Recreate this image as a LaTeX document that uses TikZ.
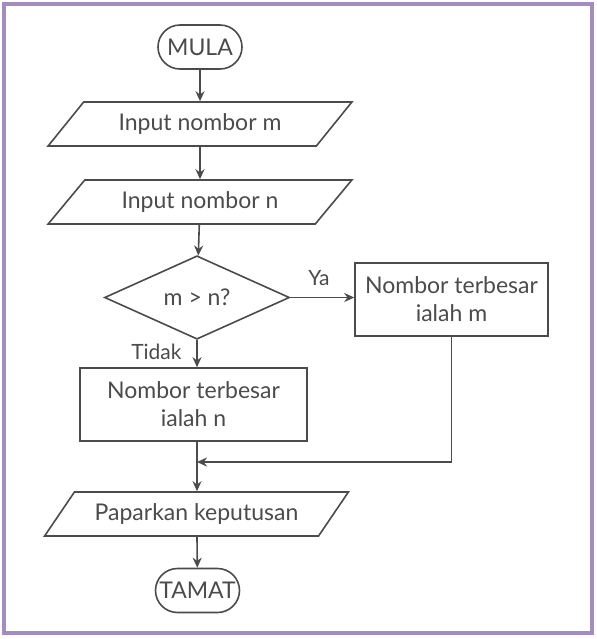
\documentclass[tikz,border=0pt]{standalone}
\usepackage{fontspec}
\setmainfont{Lato}
\usetikzlibrary{shapes.geometric,shapes.misc,arrows.meta}

\definecolor{framepurple}{RGB}{165,140,190}
\definecolor{inkgray}{RGB}{75,75,75}

\begin{document}
\begin{tikzpicture}[
  x=0.5pt, y=-0.5pt,
  every node/.style={font=\fontsize{11.5}{14}\selectfont, text=inkgray},
  term/.style={rounded rectangle, draw=inkgray, line width=0.8pt, minimum width=46pt, minimum height=22pt, inner sep=2pt},
  io/.style={trapezium, trapezium left angle=40, trapezium right angle=140, trapezium stretches,
             draw=inkgray, line width=0.8pt, minimum width=152pt, minimum height=22pt, inner sep=0pt},
  proc/.style={rectangle, draw=inkgray, line width=0.8pt, align=center, minimum height=36.5pt, inner sep=2pt},
  decide/.style={diamond, draw=inkgray, line width=0.8pt, minimum width=92.5pt, minimum height=40.5pt, inner sep=0pt},
  arrow/.style={draw=inkgray, line width=0.8pt, -{Stealth[length=5pt, width=4.5pt]}},
  lbl/.style={font=\fontsize{10.5}{12}\selectfont},
]
\useasboundingbox (0,0) rectangle (597,639);
\fill[white] (0,0) rectangle (597,639);
\draw[framepurple, line width=2pt] (4,4) rectangle (592,633);

% === MAIN FLOW ===
\node[term] (mula) at (200, 47) {MULA};
\node[io] (inm) at (200, 124) {Input nombor m};
\node[io] (inn) at (200, 202) {Input nombor n};
\node[decide] (dec) at (197, 297.5) {m > n?};
\node[proc, minimum width=96.5pt] (bigm) at (451.5, 299.5) {Nombor terbesar\\ialah m};
\node[proc, minimum width=113.5pt] (bign) at (193.5, 404.5) {Nombor terbesar\\ialah n};
\node[io] (show) at (196.5, 514) {Paparkan keputusan};
\node[term] (tamat) at (197.5, 590.5) {TAMAT};
\coordinate (join) at (197, 462);

\draw[arrow] (mula) -- (inm);
\draw[arrow] (inm) -- (inn);
\draw[arrow] (inn) -- (dec);
\draw[arrow] (dec.east) -- node[lbl, above, pos=0.45, yshift=2pt] {Ya} (dec.east -| bigm.west);
\draw[arrow] (dec.south) -- node[lbl, left, pos=0.45, xshift=-4pt] {Tidak} (dec.south |- bign.north);
\draw[inkgray, line width=0.8pt] (dec.south |- bign.south) -- (join);
\draw[arrow] (bigm.south) |- (join);
\draw[arrow] (join) -- (join |- show.north);
\draw[arrow] (show.south -| join) -- (tamat);
\end{tikzpicture}
\end{document}
